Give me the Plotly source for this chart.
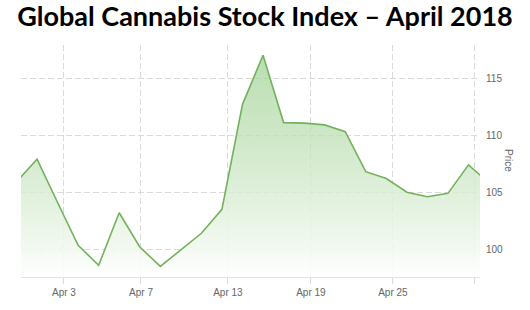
import plotly.graph_objects as go

# point index (trading-day order) and index level
idx = list(range(-1, 23))
price = [105.9, 107.9, 104.1, 100.35, 98.6, 103.2, 100.2, 98.5, 99.95, 101.4, 103.5,
         112.7, 117.0, 111.1, 111.05, 110.9, 110.3, 106.8, 106.2, 105.0, 104.6, 104.9,
         107.4, 105.8]

tick_pos = [1.31, 5.06, 9.29, 13.33, 17.32, 21.31]
tick_labels = ["Apr 3", "Apr 7", "Apr 13", "Apr 19", "Apr 25", ""]
y_ticks = [100, 105, 110, 115]

fig = go.Figure()
fig.add_trace(go.Scatter(
    x=idx, y=price, mode="lines",
    line=dict(color="#72b25c", width=1.6),
    fill="tozeroy",
    fillgradient=dict(type="vertical", start=97.5, stop=117.5,
                      colorscale=[[0, "rgba(255,255,255,0.9)"],
                                  [1, "rgba(150,205,135,0.65)"]]),
    hoverinfo="skip", showlegend=False,
))

grid = "rgb(218,218,218)"
L, R, T, B = 21, 50, 45, 33
pw = 530 - L - R
ph = 310 - T - B
fig.update_layout(
    width=530, height=310,
    margin=dict(l=L, r=R, t=T, b=B),
    paper_bgcolor="white", plot_bgcolor="white",
    title=dict(text="<b>Global Cannabis Stock Index – April 2018</b>",
               x=0.5, xanchor="center", y=1 - 17 / 310, yanchor="middle",
               yref="container",
               font=dict(family="Lato", size=27, color="black")),
    xaxis=dict(range=[-0.78, 21.56], tickmode="array", tickvals=tick_pos,
               ticktext=tick_labels, showgrid=True, gridcolor=grid,
               griddash="6px,3px", gridwidth=1, zeroline=False,
               showline=True, linecolor="rgb(222,226,234)", linewidth=1,
               ticks="outside", ticklen=6, tickcolor=grid,
               tickfont=dict(family="Arial", size=10, color="#666")),
    yaxis=dict(range=[97.57, 117.9], side="right", tickmode="array",
               tickvals=y_ticks, showgrid=True, gridcolor=grid,
               griddash="6px,3px", gridwidth=1, zeroline=False,
               showline=False, ticks="outside", ticklen=3,
               tickcolor="rgba(0,0,0,0)",
               tickfont=dict(family="Arial", size=10, color="#666")),
    annotations=[dict(text="Price", x=(509 - L) / pw, y=(310 - B - 160) / ph,
                      xref="paper", yref="paper", xanchor="center",
                      yanchor="middle", showarrow=False, textangle=90,
                      font=dict(family="Arial", size=10, color="#666"))],
)
fig.write_html("out.html")
